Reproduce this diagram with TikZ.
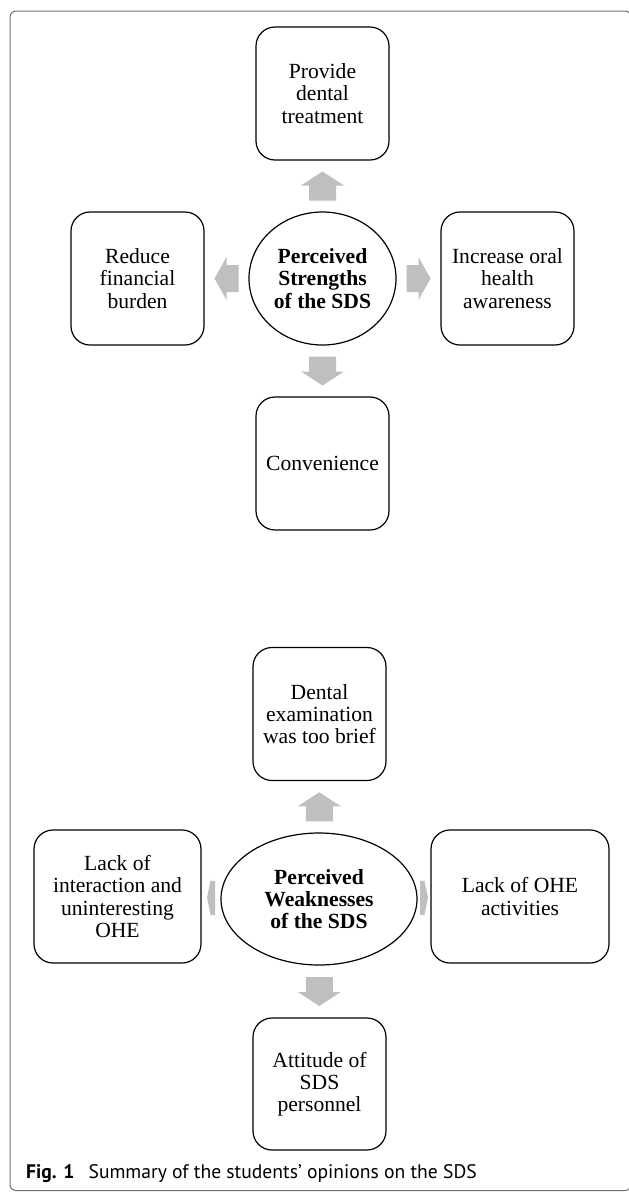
\documentclass[tikz,border=0pt]{standalone}
\usepackage{fontspec}
\setmainfont{Liberation Serif}
\newfontfamily\capfont{PT Sans}
\usetikzlibrary{shapes.geometric,calc}
\definecolor{arrowfill}{RGB}{191,191,191}
\definecolor{framegray}{RGB}{112,112,112}
\tikzset{
  box/.style={draw, line width=1.2pt, rounded corners=19pt, minimum width=133pt,
    minimum height=133pt, inner sep=2pt, align=center,
    font=\fontsize{21.6}{22.3}\selectfont},
  hub/.style={draw, ellipse, line width=1.2pt, inner sep=0pt, align=center,
    font=\fontsize{21.6}{22.3}\selectfont\bfseries},
  arrowV/.pic={\fill[arrowfill] (-14.5pt,-13.5pt) -- (0.5pt,-13.5pt) -- (0.5pt,-21.5pt)
    -- (14.5pt,0pt) -- (0.5pt,21.5pt) -- (0.5pt,13.5pt) -- (-14.5pt,13.5pt) -- cycle;},
  arrowH/.pic={\fill[arrowfill] (-12pt,-13.5pt) -- (0pt,-13.5pt) -- (0pt,-21.5pt)
    -- (12pt,0pt) -- (0pt,21.5pt) -- (0pt,13.5pt) -- (-12pt,13.5pt) -- cycle;},
  arrowS/.pic={\fill[arrowfill] (-4pt,-17pt) -- (0pt,-17pt) -- (0pt,-19pt)
    -- (4pt,0pt) -- (0pt,19pt) -- (0pt,17pt) -- (-4pt,17pt) -- cycle;},
}
\begin{document}
\begin{tikzpicture}[x=1pt,y=-1pt]
\useasboundingbox (0,0) rectangle (629,1192);
\clip (0,0) rectangle (629,1192);
\draw[framegray, line width=1pt, rounded corners=6pt] (10,11) rectangle (631,1190.5);

% Strengths
\node[box] (s-top) at (322.5,93.5) {Provide\\dental\\treatment};
\node[hub, minimum width=147pt, minimum height=133pt] (s-hub) at (322.5,278.5) {Perceived\\Strengths\\of the SDS};
\node[box] (s-left) at (137.5,278.5) {Reduce\\financial\\burden};
\node[box] (s-right) at (507.5,278.5) {Increase oral\\health\\awareness};
\node[box] (s-bot) at (322.5,463.5) {Convenience};

\pic[rotate=90] at ($(s-hub.north)!0.5!(s-top.south)$) {arrowV};
\pic[rotate=-90] at ($(s-hub.south)!0.5!(s-bot.north)$) {arrowV};
\pic[rotate=180] at ($(s-hub.west)!0.5!(s-left.east)$) {arrowH};
\pic at ($(s-hub.east)!0.5!(s-right.west)$) {arrowH};

% Weaknesses
\node[box] (w-top) at (319.5,714) {Dental\\examination\\was too brief};
\node[hub, minimum width=196pt, minimum height=132pt] (w-hub) at (319,899) {Perceived\\Weaknesses\\of the SDS};
\node[box, minimum width=167pt] (w-left) at (117.5,896.5) {Lack of\\interaction and\\uninteresting\\OHE};
\node[box, minimum width=178pt] (w-right) at (520,896.5) {Lack of OHE\\activities};
\node[box, minimum height=132pt] (w-bot) at (319.5,1084) {Attitude of\\SDS\\personnel};

\pic[rotate=90] at ($(w-hub.north)!0.5!(w-top.south)$) {arrowV};
\pic[rotate=-90] at ($(w-hub.south)!0.5!(w-bot.north)$) {arrowV};
\pic[rotate=180] at ($(w-hub.west)!0.5!(w-left.east)$) {arrowS};
\pic at ($(w-hub.east)!0.5!(w-right.west)$) {arrowS};

% Caption
\node[anchor=base west, inner sep=0pt, font=\capfont\fontsize{19.6}{21}\selectfont] (cap) at (26,1178)
  {\textbf{Fig. 1}\hspace{0.72em}Summary of the students’ opinions on the SDS};
\end{tikzpicture}
\end{document}
